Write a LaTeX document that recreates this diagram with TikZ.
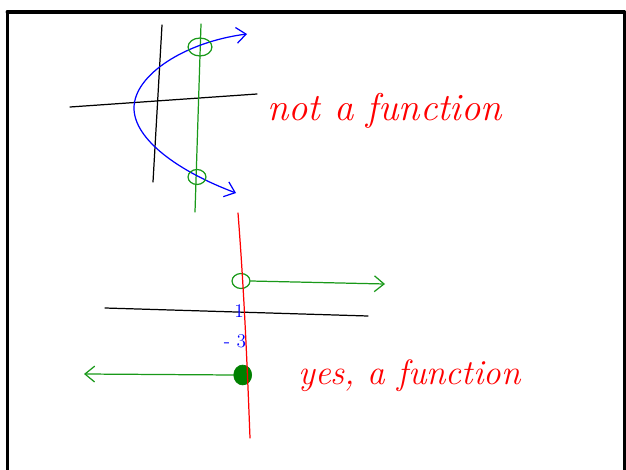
\documentclass[tikz,border=0pt]{standalone}
\usetikzlibrary{arrows,arrows.meta,shapes.geometric}
\definecolor{ffqqqq}{rgb}{1.,0.,0.}
\definecolor{qqqqff}{rgb}{0.,0.,1.}
\definecolor{qqwuqq}{rgb}{0.1,0.6,0.1}
\definecolor{qqzzqq}{rgb}{0.,0.5,0.}
\tikzset{
  pen/.style={line width=0.7pt},
  hole/.style={draw=qqwuqq,pen,ellipse,inner sep=0pt},
  dot/.style={draw=qqzzqq,fill=qqzzqq,ellipse,inner sep=0pt},
  scrawl/.style={color=ffqqqq,inner sep=0pt,font=\fontsize{20}{24}\selectfont\itshape},
  ticklabel/.style={color=qqqqff,font=\fontsize{11}{13}\selectfont}
}
\begin{document}
\begin{tikzpicture}[line cap=round,line join=round,x=0.02cm,y=-0.02cm,
    >={Straight Barb[length=5.5pt,width=9pt]}]
        \clip(0,0) rectangle (626,470);
        \useasboundingbox (0,0) rectangle (626,470);
        \draw [line width=2.2pt] (7.5,12)-- (624.5,12)-- (624.5,480);
        \draw [line width=2.2pt] (7.5,12)-- (7.5,480);
        % upper sketch: sideways parabola
        \coordinate (ytop) at (162,25);
        \coordinate (ybot) at (153,182);
        \coordinate (xleft) at (70,107);
        \coordinate (xright) at (257,94);
        \coordinate (vtop) at (201,24);
        \coordinate (vbot) at (195,212);
        \coordinate (tipup) at (247,34);
        \coordinate (tipdown) at (236,193);
        \coordinate (nose) at (134,108);
        \draw [pen] (ytop)-- (ybot);
        \draw [pen] (xleft)-- (xright);
        \draw [pen,color=qqwuqq] (vtop)-- (vbot);
        \draw [pen,<->,color=qqqqff] (tipdown) .. controls (180,172) and (134,140) .. (nose)
              .. controls (134,75) and (185,42) .. (tipup);
        \node [hole,minimum width=13.6pt,minimum height=10.2pt] (hitup) at (200,47) {};
        \node [hole,minimum width=10.2pt,minimum height=8.5pt] (hitdown) at (197,177) {};
        \node [scrawl,font=\fontsize{22}{26}\selectfont\itshape,anchor=base west] (nofunc) at (267,120) {not a function};
        % lower sketch: vertical line test
        \coordinate (rtop) at (238,213);
        \coordinate (rbot) at (250,438);
        \coordinate (aleft) at (105,308);
        \coordinate (aright) at (368,316);
        \coordinate (endright) at (385,284);
        \coordinate (endleft) at (84,374);
        \node [hole,minimum width=10.2pt,minimum height=8.5pt] (open) at (241,281) {};
        \node [dot,minimum width=10.2pt,minimum height=11.3pt] (closed) at (242.7,375) {};
        \draw [pen] (aleft)-- (aright);
        \draw [pen,->,color=qqwuqq] (open.east)-- (endright);
        \draw [pen,->,color=qqwuqq] (closed.west)-- (endleft);
        \draw [pen,color=ffqqqq] (rtop) .. controls (244,290) and (247,360) .. (rbot);
        \node [ticklabel] (one) at (239,311) {1};
        \node [ticklabel] (minusthree) at (235,341) {- 3};
        \node [scrawl,anchor=base west] (yesfunc) at (298,384) {yes, a function};
\end{tikzpicture}
\end{document}
